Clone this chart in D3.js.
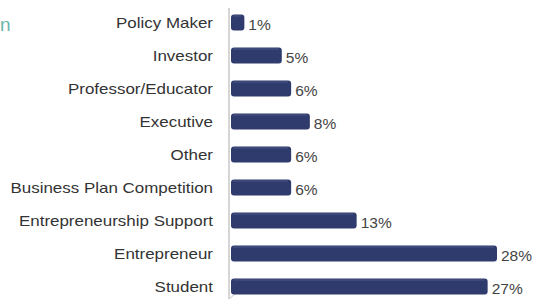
<!DOCTYPE html>
<html>
<head>
<meta charset="utf-8">
<script src="https://cdn.jsdelivr.net/npm/d3@7"></script>
<style>
	body { margin: 0; background: #fff; }
	svg { display: block; font-family: "Liberation Sans", Arial, sans-serif; }
</style>
</head>
<body>
<div id="chart"></div>
<script>

// categories top to bottom
var categories = ["Policy Maker", "Investor", "Professor/Educator", "Executive", "Other",
	"Business Plan Competition", "Entrepreneurship Support", "Entrepreneur", "Student"];

// share of respondents, percent
var values = [1, 5, 6, 8, 6, 6, 13, 28, 27];

var width = 537, height = 303;
var margin = {top: 22.5, left: 231, bottom: 16.5};
var barHeight = 16;

var svg = d3.select("#chart").append("svg")
	.attr("width", width)
	.attr("height", height);

// title fragment at left edge
svg.append("text")
	.attr("x", 0)
	.attr("y", 31)
	.attr("fill", "#6bb5a8")
	.style("font-size", "19px")
	.text("n");

// scales
var x = d3.scaleLinear()
	.domain([0, 28])
	.range([0, 262]);

var y = d3.scalePoint()
	.domain(categories)
	.range([margin.top, height - margin.bottom]);

var chart = svg.append("g")
	.attr("transform", "translate(" + margin.left + ",0)");

// axis line
chart.append("line")
	.attr("x1", -2).attr("x2", -2)
	.attr("y1", 8).attr("y2", 299)
	.attr("stroke", "#c8c8c8")
	.attr("stroke-width", 1.5);

chart.append("path")
	.attr("d", "M-2,299 L4,294")
	.attr("stroke", "#c8c8c8")
	.attr("fill", "none");

var data = categories.map(function(c, i) { return {name: c, value: values[i]}; });

// bars
chart.selectAll("rect.bar")
	.data(data)
	.enter()
	.append("rect")
	.attr("class", "bar")
	.attr("x", 0)
	.attr("y", function(d) { return y(d.name) - barHeight / 2; })
	.attr("width", function(d) { return x(d.value) + 4; })
	.attr("height", barHeight)
	.attr("rx", 3)
	.attr("fill", "#2f3b6c");

// top highlight line
chart.selectAll("line.hl")
	.data(data)
	.enter()
	.append("line")
	.attr("class", "hl")
	.attr("x1", 2)
	.attr("x2", function(d) { return x(d.value) + 1; })
	.attr("y1", function(d) { return y(d.name) - barHeight / 2 + 1.5; })
	.attr("y2", function(d) { return y(d.name) - barHeight / 2 + 1.5; })
	.attr("stroke", "#4a5685")
	.attr("stroke-width", 1);

// category labels (source font is a bit wider than Arial)
var labels = svg.append("g")
	.attr("transform", "translate(213,0) scale(1.13,1)");

labels.selectAll("text.cat")
	.data(data)
	.enter()
	.append("text")
	.attr("class", "cat")
	.attr("x", 0)
	.attr("y", function(d) { return y(d.name); })
	.attr("dy", "0.36em")
	.attr("text-anchor", "end")
	.attr("fill", "#333")
	.style("font-size", "15px")
	.text(function(d) { return d.name; });

// value labels
chart.selectAll("text.val")
	.data(data)
	.enter()
	.append("text")
	.attr("class", "val")
	.attr("x", function(d) { return x(d.value) + 8; })
	.attr("y", function(d) { return y(d.name) + 2; })
	.attr("dy", "0.36em")
	.attr("fill", "#444")
	.style("font-size", "15.5px")
	.text(function(d) { return d.value + "%"; });

</script>
</body>
</html>
